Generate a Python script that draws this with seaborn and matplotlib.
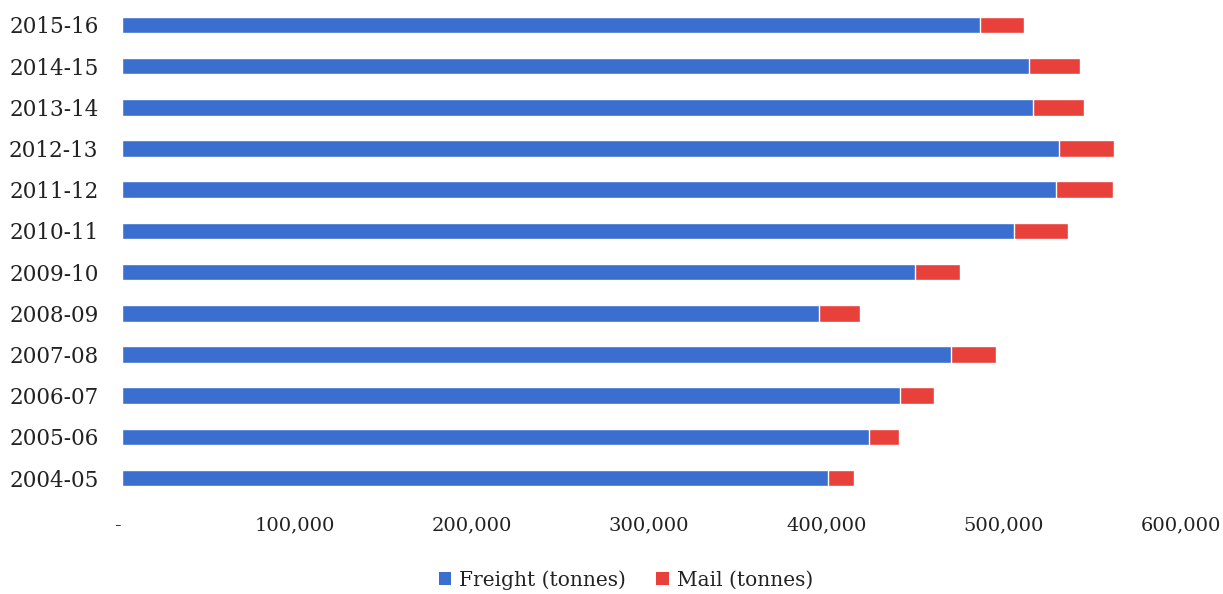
import matplotlib
matplotlib.use("Agg")
import matplotlib.pyplot as plt
import matplotlib.transforms as mtransforms
from matplotlib.patches import Patch
from matplotlib.ticker import FuncFormatter
import seaborn as sns
import pandas as pd

years = ["2015-16", "2014-15", "2013-14", "2012-13", "2011-12", "2010-11",
         "2009-10", "2008-09", "2007-08", "2006-07", "2005-06", "2004-05"]
freight = [483900, 511300, 513300, 528300, 526600, 503100,
           447100, 393100, 467400, 438800, 420900, 397800]
mail = [24800, 28800, 29100, 30800, 31800, 30300,
        25400, 22800, 25400, 19200, 17100, 15100]

BLUE = "#3a6fcf"
RED = "#e8403a"

df = pd.DataFrame({"year": years, "freight": freight, "mail": mail})
df["total"] = df["freight"] + df["mail"]

sns.set_theme(style="white")
plt.rcParams["font.family"] = ["DejaVu Serif"]

fig = plt.figure(figsize=(12.23, 5.94), dpi=100)
ax = fig.add_axes([0.0998, 0.1606, 0.8702, 0.832])

# stacked horizontal bars: total (mail on top) drawn first, freight over it
sns.barplot(data=df, x="total", y="year", order=years, color=RED,
            width=0.40, saturation=1, ax=ax)
sns.barplot(data=df, x="freight", y="year", order=years, color=BLUE,
            width=0.40, saturation=1, ax=ax)

ax.set_xlim(0, 600000)
ax.set_xticks(range(0, 600001, 100000))
ax.xaxis.set_major_formatter(FuncFormatter(lambda v, p: "-" if v == 0 else f"{int(v):,}"))
ax.set_xlabel("")
ax.set_ylabel("")
for s in ax.spines.values():
    s.set_visible(False)
ax.tick_params(axis="x", length=0, pad=13, labelsize=14, colors="#222222")
ax.tick_params(axis="y", length=0, pad=17, labelsize=15.5, colors="#222222")

shift = mtransforms.ScaledTranslation(-5 / 100, 0, fig.dpi_scale_trans)
for lbl in ax.get_xticklabels():
    lbl.set_transform(lbl.get_transform() + shift)

handles = [Patch(facecolor=BLUE, edgecolor="none", label="Freight (tonnes)"),
           Patch(facecolor=RED, edgecolor="none", label="Mail (tonnes)")]
fig.legend(handles=handles, loc="center", bbox_to_anchor=(626 / 1223, 0.024),
           ncol=2, frameon=False, fontsize=14.5, handlelength=0.6, handleheight=0.6,
           handletextpad=0.4, columnspacing=1.5, labelcolor="#222222")

fig.savefig("out.png", dpi=100)
